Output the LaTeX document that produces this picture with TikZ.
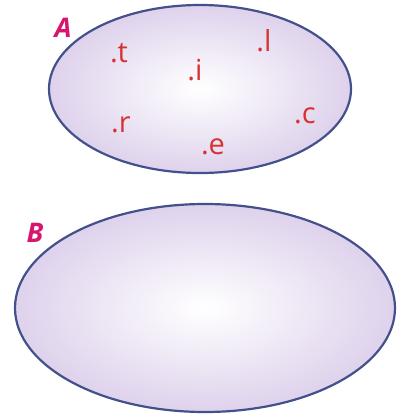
\documentclass[tikz,border=0pt]{standalone}
\usepackage{fontspec}
\setmainfont{Open Sans}
\begin{document}
\begin{tikzpicture}[x=1pt,y=-1pt,
  setshape/.style={draw=setborder, line width=2.2pt, inner color=white, outer color=setfill},
  elem/.style={text=elemred, font=\fontsize{29}{29}\selectfont, inner sep=0pt},
  setname/.style={text=namepink, font=\fontsize{27}{27}\selectfont\bfseries\itshape, inner sep=0pt}]
\definecolor{setborder}{RGB}{68,80,140}
\definecolor{setfill}{RGB}{222,210,236}
\definecolor{elemred}{RGB}{215,50,50}
\definecolor{namepink}{RGB}{215,20,110}
\useasboundingbox (0,0) rectangle (398,418);
\shade[setshape] (200,89) ellipse [x radius=151, y radius=84];
\shade[setshape] (205,308) ellipse [x radius=190, y radius=104];
\node[setname] (A) at (63,28) {A};
\node[setname] (B) at (35,233) {B};
\node[elem] (t) at (119,53) {.t};
\node[elem] (i) at (195,70) {.i};
\node[elem] (l) at (264,41) {.l};
\node[elem] (r) at (121,125) {.r};
\node[elem] (e) at (213,147) {.e};
\node[elem] (c) at (305,116) {.c};
\end{tikzpicture}
\end{document}
